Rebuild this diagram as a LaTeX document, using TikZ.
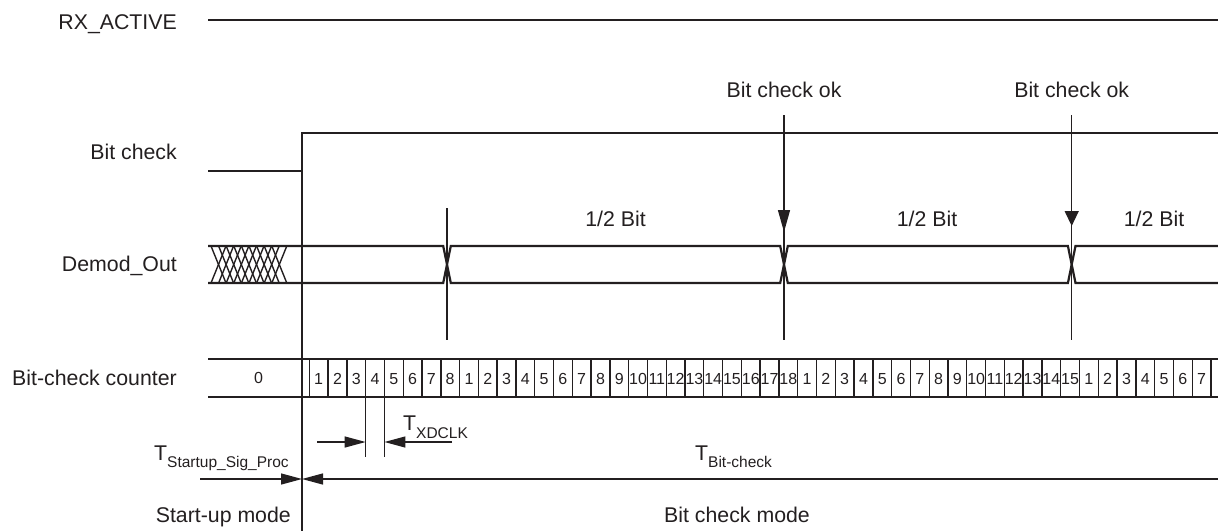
\documentclass[tikz,border=0pt]{standalone}
\usepackage{fontspec}
\setmainfont{Liberation Sans}
\usetikzlibrary{arrows.meta}
\definecolor{ink}{RGB}{35,31,32}
\newcommand{\mainf}{\fontsize{21.3}{24}\selectfont}
\newcommand{\subf}{\fontsize{15.5}{18}\selectfont}
\newcommand{\digf}{\fontsize{16}{18}\selectfont}
\tikzset{
  lbl/.style={font=\mainf, text=ink, inner sep=0pt},
  dig/.style={font=\digf, text=ink, inner sep=0pt, anchor=base},
  sig/.style={draw=ink, line width=2.2pt, line join=miter},
  thin/.style={draw=ink, line width=1.3pt},
  cellline/.style={draw=ink, line width=1.4pt},
  rowline/.style={draw=ink, line width=1.8pt},
  hatch/.style={draw=ink, line width=1.4pt},
  bigtip/.style={-{Triangle[length=21pt,width=11pt]}},
}
\begin{document}
\begin{tikzpicture}[x=1pt,y=-1pt]
\useasboundingbox (0,0) rectangle (1218,531);
% labels left
\node[lbl, anchor=base east] (rx) at (177,29) {RX\_ACTIVE};
\node[lbl, anchor=base east] (bc) at (177,159.3) {Bit check};
\node[lbl, anchor=base east] (dm) at (177,271.7) {Demod\_Out};
\node[lbl, anchor=base east] (cnt) at (177,385) {Bit-check counter};
% RX_ACTIVE
\coordinate (rxa) at (208,20);
\coordinate (rxb) at (1218,20);
\draw[sig] (rxa) -- (rxb);
% Bit check
\coordinate (bca) at (208,171);
\coordinate (bcb) at (302,171);
\coordinate (bcc) at (302,133);
\coordinate (bcd) at (1218,133);
\draw[sig] (bca) -- (bcb) -- (bcc) -- (bcd);
% main vertical
\coordinate (mvb) at (302,531);
\draw[thin] (bcb) -- (mvb);
% Demod_Out
\def\h{3.8}
\def\ca{447}\def\cb{784}\def\cc{1071.7}
\draw[sig] (208,246) -- (\ca-\h,246) -- (\ca+\h,283) -- (\cb-\h,283) -- (\cb+\h,246) -- (\cc-\h,246) -- (\cc+\h,283) -- (1218,283);
\draw[sig] (208,283) -- (\ca-\h,283) -- (\ca+\h,246) -- (\cb-\h,246) -- (\cb+\h,283) -- (\cc-\h,283) -- (\cc+\h,246) -- (1218,246);
\foreach \k in {0,...,8}{
  \draw[hatch] (211+7.6*\k,246) -- (226+7.6*\k,283);
  \draw[hatch] (226+7.6*\k,246) -- (211+7.6*\k,283);
}
% markers
\coordinate (m1t) at (\ca,208); \coordinate (m1b) at (\ca,340);
\coordinate (m2t) at (\cb,115); \coordinate (m2b) at (\cb,340); \coordinate (m2h) at (\cb,232);
\coordinate (m3t) at (\cc,115); \coordinate (m3b) at (\cc,340); \coordinate (m3h) at (\cc,226);
\draw[thin] (m1t) -- (m1b);
\draw[thin] (m2t) -- (m2b);
\draw[thin] (m3t) -- (m3b);
\draw[thin, -{Triangle[length=22pt,width=12pt]}] (m2t) -- (m2h);
\draw[thin, -{Triangle[length=15pt,width=14pt]}] (m3t) -- (m3h);
\node[lbl, anchor=base] (ok1) at (\cb,97.3) {Bit check ok};
\node[lbl, anchor=base] (ok2) at (\cc,97.3) {Bit check ok};
\node[lbl, anchor=base] (hb1) at (615.5,226.7) {1/2 Bit};
\node[lbl, anchor=base] (hb2) at (927,226.7) {1/2 Bit};
\node[lbl, anchor=base] (hb3) at (1154,226.7) {1/2 Bit};
% counter row
\draw[rowline] (208,359) -- (1218,359);
\draw[rowline] (208,397) -- (1218,397);
\def\cx{309.3}\def\cw{18.785}
\foreach \k in {0,...,48}{
  \draw[cellline] (\cx+\cw*\k,359) -- (\cx+\cw*\k,397);
}
\node[dig] (c0) at (258.6,383.5) {0};
\foreach \v [count=\i from 0] in {1,2,3,4,5,6,7,8,1,2,3,4,5,6,7,8,9,10,11,12,13,14,15,16,17,18,1,2,3,4,5,6,7,8,9,10,11,12,13,14,15,1,2,3,4,5,6,7}{
  \node[dig] (d\i) at (\cx+\cw*\i+\cw/2,384) {\v};
}
% T_XDCLK
\coordinate (xa) at (\cx+\cw*3,397); \coordinate (xab) at (\cx+\cw*3,457);
\coordinate (xb) at (\cx+\cw*4,397); \coordinate (xbb) at (\cx+\cw*4,457);
\draw[thin] (xa) -- (xab);
\draw[thin] (xb) -- (xbb);
\coordinate (xl) at (317,442); \coordinate (xlt) at (\cx+\cw*3,442);
\coordinate (xr) at (452,442); \coordinate (xrt) at (\cx+\cw*4,442);
\draw[thin, bigtip] (xl) -- (xlt);
\draw[thin, bigtip] (xr) -- (xrt);
\node[lbl, anchor=base west] (tx) at (403,430) {T\raisebox{-8pt}{\subf XDCLK}};
% T_Startup / T_Bit-check
\coordinate (sl) at (200,479); \coordinate (sm) at (302,479); \coordinate (sr) at (1218,479);
\draw[thin, bigtip] (sl) -- (sm);
\draw[thin, bigtip] (sr) -- (sm);
\node[lbl, anchor=base west] (ts) at (154,460) {T\raisebox{-7.5pt}{\subf Startup\_Sig\_Proc}};
\node[lbl, anchor=base west] (tb) at (695,460) {T\raisebox{-7.5pt}{\subf Bit-check}};
\node[lbl, anchor=base east] (sum) at (291,522.7) {Start-up mode};
\node[lbl, anchor=base] (bcm) at (737,522.7) {Bit check mode};
\end{tikzpicture}
\end{document}
